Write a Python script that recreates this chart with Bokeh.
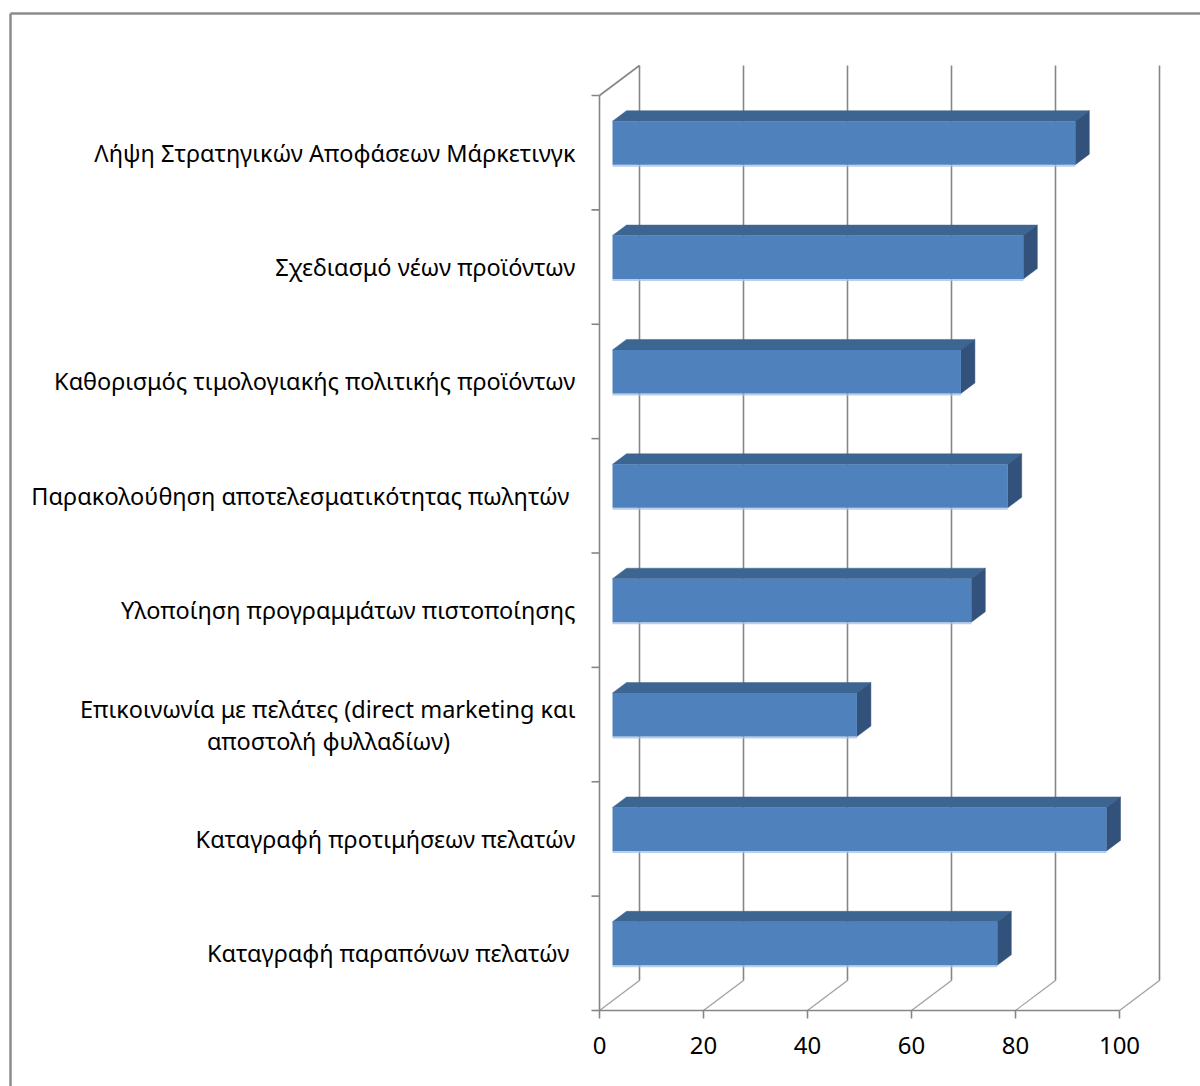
from bokeh.plotting import figure
from bokeh.embed import file_html
from bokeh.resources import INLINE
from bokeh.models import Range1d
from bokeh.core.properties import value

# Survey items (top to bottom) and their scores
categories = [
    "Λήψη Στρατηγικών Αποφάσεων Μάρκετινγκ",
    "Σχεδιασμό νέων προϊόντων",
    "Καθορισμός τιμολογιακής πολιτικής προϊόντων",
    "Παρακολούθηση αποτελεσματικότητας πωλητών ",
    "Υλοποίηση προγραμμάτων πιστοποίησης",
    "Επικοινωνία με πελάτες (direct marketing και\nαποστολή φυλλαδίων)",
    "Καταγραφή προτιμήσεων πελατών",
    "Καταγραφή παραπόνων πελατών ",
]
scores = [89, 79, 67, 76, 69, 47, 95, 74]
x_ticks = [0, 20, 40, 60, 80, 100]

# ---- layout / projection settings ----
W, H = 1200, 1086
PX_PER_X = 5.2          # pixels per value unit
PX_PER_Y = 114.375      # pixels per category slot
ORIGIN_PX = (599, 1010) # screen position of (0, 0) on the front plane


def sx(px):
    """screen x (px) -> data x"""
    return (px - ORIGIN_PX[0]) / PX_PER_X


def sy(py):
    """screen y (px) -> data y"""
    return (ORIGIN_PX[1] - py) / PX_PER_Y


n = len(categories)
DX = 40 / PX_PER_X      # oblique depth offset (full depth), x
DY = 30 / PX_PER_Y      # oblique depth offset (full depth), y
Z0, Z1 = 0.325, 0.675   # bar front/back depth fractions
HALF = 0.19             # half bar thickness (category units)

GRID = "#868686"
FRONT = "#4f81bd"
TOP = "#3d6591"
SIDE = "#32527c"
EDGE = "#a9c2e4"
FONT = value("Noto Sans")
LABEL_SIZE = "23.5px"

p = figure(
    width=W, height=H,
    x_range=Range1d(sx(0), sx(W)), y_range=Range1d(sy(H), sy(0)),
    x_axis_location=None, y_axis_location=None,
    toolbar_location=None, output_backend="svg",
    min_border=0, outline_line_color=None,
    background_fill_color="white", border_fill_color="white",
)
p.grid.visible = False

# chart-area border (left and top edges)
p.segment(x0=[sx(10), sx(10)], y0=[sy(H + 5), sy(13)],
          x1=[sx(10), sx(W + 5)], y1=[sy(13), sy(13)],
          line_color="#8c8c8c", line_width=2.5)

# ---- walls and gridlines ----
# back wall verticals
p.segment(x0=[t + DX for t in x_ticks], y0=DY, x1=[t + DX for t in x_ticks], y1=n + DY,
          line_color=GRID, line_width=1.6)
# floor diagonals
p.segment(x0=x_ticks, y0=0, x1=[t + DX for t in x_ticks], y1=DY,
          line_color=GRID, line_width=1.2, line_alpha=0.8)
# left wall front edge and its top diagonal
p.segment(x0=[0, 0], y0=[0, n], x1=[0, DX], y1=[n, n + DY],
          line_color=GRID, line_width=1.6)
# category separators on the left wall
tick_len_x = 8 / PX_PER_X
p.segment(x0=-tick_len_x, y0=list(range(n + 1)), x1=0, y1=list(range(n + 1)),
          line_color=GRID, line_width=1.6)
# front value axis
tick_len_y = 8 / PX_PER_Y
p.segment(x0=[0], y0=[0], x1=[x_ticks[-1]], y1=[0], line_color=GRID, line_width=1.6)
p.segment(x0=x_ticks, y0=0, x1=x_ticks, y1=-tick_len_y, line_color=GRID, line_width=1.6)
p.text(x=x_ticks, y=-35 / PX_PER_Y, text=[str(t) for t in x_ticks],
       text_align="center", text_baseline="middle",
       text_font=FONT, text_font_size="24px", text_color="black")

# ---- 3D bars ----
centers = [n - 0.5 - i for i in range(n)]
yf = [c + Z0 * DY for c in centers]
left_f = Z0 * DX
right_f = [v + Z0 * DX for v in scores]

top_xs, top_ys, side_xs, side_ys = [], [], [], []
for c, v in zip(centers, scores):
    ft, fb = c + HALF + Z0 * DY, c - HALF + Z0 * DY
    bt, bb = c + HALF + Z1 * DY, c - HALF + Z1 * DY
    top_xs.append([Z0 * DX, v + Z0 * DX, v + Z1 * DX, Z1 * DX])
    top_ys.append([ft, ft, bt, bt])
    side_xs.append([v + Z0 * DX, v + Z1 * DX, v + Z1 * DX, v + Z0 * DX])
    side_ys.append([fb, bb, bt, ft])

p.patches(top_xs, top_ys, fill_color=TOP, line_color=TOP, line_width=0.5)
p.patches(side_xs, side_ys, fill_color=SIDE, line_color=SIDE, line_width=0.5)
edge_h = 2 / PX_PER_Y
p.hbar(y=[y - HALF - edge_h / 2 for y in yf], left=left_f, right=right_f,
       height=edge_h, fill_color=EDGE, fill_alpha=0.8, line_color=None)
p.hbar(y=yf, left=left_f, right=right_f, height=2 * HALF,
       fill_color=FRONT, line_color=None)

# ---- category labels ----
label_x = sx(575)
line_gap = 32 / PX_PER_Y
for c, name in zip(centers, categories):
    lines = name.split("\n")
    if len(lines) == 1:
        p.text(x=[label_x], y=[c], text=[name], text_align="right",
               text_baseline="middle", text_font=FONT, text_font_size=LABEL_SIZE,
               text_color="black")
    else:
        p.text(x=[label_x], y=[c + line_gap / 2], text=[lines[0]], text_align="right",
               text_baseline="middle", text_font=FONT, text_font_size=LABEL_SIZE,
               text_color="black")
        p.text(x=[sx(328)], y=[c - line_gap / 2], text=[lines[1]],
               text_align="center", text_baseline="middle", text_font=FONT,
               text_font_size=LABEL_SIZE, text_color="black")

open("out.html", "w").write(file_html(p, INLINE))
